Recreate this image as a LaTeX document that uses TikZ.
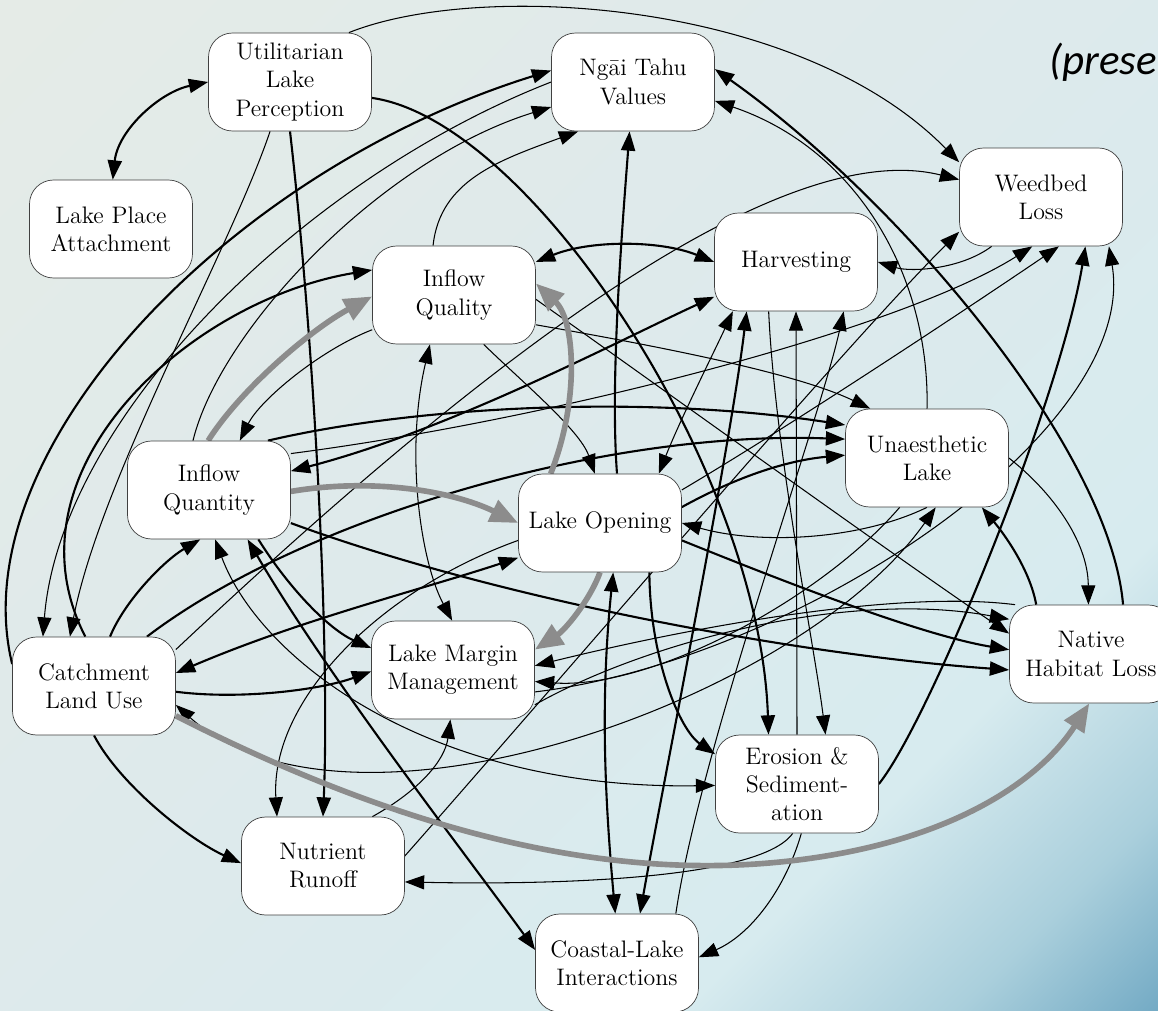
\documentclass[tikz,border=0pt]{standalone}
\usepackage{fontspec}
\newfontfamily\calibfont{Carlito}
\usetikzlibrary{arrows.meta}

\definecolor{bgA}{RGB}{229,235,231}
\definecolor{bgB}{RGB}{221,234,236}
\definecolor{bgC}{RGB}{215,235,239}
\definecolor{bgE}{RGB}{170,207,220}
\definecolor{bgD}{RGB}{112,168,195}
\pgfdeclarehorizontalshading{lakebg}{100bp}{color(0bp)=(bgA); color(15bp)=(bgA); color(50bp)=(bgB); color(70bp)=(bgC); color(79bp)=(bgE); color(86bp)=(bgD); color(100bp)=(bgD)}

\pgfdeclarelayer{bg}
\pgfdeclarelayer{edges}
\pgfsetlayers{bg,edges,main}

\begin{document}
\begin{tikzpicture}[x=0.02cm, y=-0.02cm,
        block/.style={rectangle, draw=black!75, fill=white, rounded corners=0.48cm, minimum width=3.26cm, minimum height=1.96cm, align=center, inner sep=0pt, font=\fontsize{13.6}{16}\selectfont},
        line/.style={draw, ->, >={Triangle[length=11pt,width=8pt]}, line width=0.6pt},
        heavy/.style={line, line width=1.2pt},
        trend/.style={draw=black!45, ->, >={Triangle[length=16pt,width=13pt]}, line width=3.2pt}]

    \begin{pgfonlayer}{bg}
        \shade [shading=lakebg, shading angle=-45] (0,0) rectangle (1158,1010);
    \end{pgfonlayer}
    \useasboundingbox (0,0) rectangle (1158,1010);

    \node [block] (util) at (290,82) {Utilitarian\\Lake\\Perception};
    \node [block] (place) at (111,229) {Lake Place\\Attachment};
    \node [block] (ngai) at (633,82) {Ngāi Tahu\\Values};
    \node [block] (weed) at (1041,197) {Weedbed\\Loss};
    \node [block] (harv) at (796,262) {Harvesting};
    \node [block] (qual) at (454,295) {Inflow\\Quality};
    \node [block] (unaes) at (927,458) {Unaesthetic\\Lake};
    \node [block] (quant) at (209,490) {Inflow\\Quantity};
    \node [block] (open) at (600,523) {Lake Opening};
    \node [block] (catch) at (94,686) {Catchment\\Land Use};
    \node [block] (margin) at (453,670) {Lake Margin\\Management};
    \node [block] (native) at (1091,654) {Native\\Habitat Loss};
    \node [block] (erosion) at (797,784) {Erosion \&\\Sediment-\\ation};
    \node [block] (runoff) at (323,866) {Nutrient\\Runoff};
    \node [block] (coast) at (617,963) {Coastal-Lake\\Interactions};

    \node [anchor=base west, inner sep=0pt, font=\calibfont\itshape\fontsize{24.5}{28}\selectfont] (title) at (1049,75) {(prese};

    \begin{pgfonlayer}{edges}
    % strong links
    \path [heavy, <->] (place.88) .. controls (118,130) and (160,92) .. (util.180);
    \path [heavy] (util.-11) .. controls (530,120) and (760,470) .. (erosion.120);
    \path [heavy] (util.-90) .. controls (315,350) and (330,650) .. (runoff.90);
    \path [heavy] (catch.165) .. controls (-40,450) and (230,170) .. (ngai.172);
    \path [heavy] (catch.100) .. controls (0,470) and (190,300) .. (qual.163);
    \path [heavy] (catch.72) .. controls (125,600) and (165,560) .. (quant.260);
    \path [heavy] (quant.-45) .. controls (290,590) and (330,630) .. (margin.165);
    \path [heavy, <->] (quant.-52) .. controls (330,680) and (470,860) .. (coast.171);
    \path [heavy] (catch.43) .. controls (300,520) and (600,430) .. (unaes.167);
    \path [heavy] (quant.40) .. controls (420,405) and (650,395) .. (unaes.158);
    \path [heavy] (open.11) .. controls (740,475) and (790,460) .. (unaes.178);
    \path [heavy] (open.71) .. controls (610,380) and (622,230) .. (ngai.266);
    \path [heavy] (native.57) .. controls (1110,450) and (900,200) .. (ngai.9.5);
    \path [heavy] (erosion.0) .. controls (930,720) and (1060,400) .. (weed.-48);
    \path [heavy, <->] (qual.22) .. controls (590,240) and (660,240) .. (harv.180);
    \path [heavy, <->] (quant.13.5) .. controls (450,430) and (620,340) .. (harv.203);
    \path [heavy, <->] (catch.9) .. controls (300,620) and (420,590) .. (open.203);
    \path [heavy] (catch.-4) .. controls (240,700) and (320,690) .. (margin.181);
    \path [heavy] (catch.-90) .. controls (120,785) and (190,840) .. (runoff.178);
    \path [heavy] (open.-45.6) .. controls (650,660) and (680,730) .. (erosion.160);
    \path [heavy] (open.-12) .. controls (780,580) and (920,635) .. (native.177);
    \path [heavy] (quant.-22) .. controls (500,600) and (800,655) .. (native.191);
    \path [heavy] (native.138) .. controls (1030,570) and (1005,535) .. (unaes.-42.5);
    \path [heavy, <->] (harv.225) .. controls (730,450) and (660,800) .. (coast.65);
    \path [heavy, <->] (open.-75) .. controls (600,700) and (605,800) .. (coast.92);

    % weaker links
    \path [line] (util.40) .. controls (480,-20) and (800,0) .. (weed.157);
    \path [line] (util.248) .. controls (230,250) and (100,480) .. (catch.116);
    \path [line] (ngai.180) .. controls (300,180) and (60,420) .. (catch.136);
    \path [line] (quant.108) .. controls (220,330) and (380,160) .. (ngai.197);
    \path [line] (qual.113) .. controls (440,180) and (500,160) .. (ngai.222.5);
    \path [line] (unaes.90) .. controls (930,280) and (860,150) .. (ngai.-13.4);
    \path [line] (catch.24) .. controls (420,420) and (760,130) .. (weed.168.5);
    \path [line] (quant.24) .. controls (550,420) and (900,330) .. (weed.260);
    \path [line] (open.22) .. controls (800,420) and (980,300) .. (weed.-70);
    \path [line] (runoff.7.7) .. controls (560,680) and (850,340) .. (weed.203);
    \path [line] (margin.-15) .. controls (800,660) and (1140,430) .. (weed.-36);
    \path [line] (native.147) .. controls (900,590) and (700,625) .. (margin.3.4);
    \path [line] (unaes.241) .. controls (820,600) and (650,690) .. (margin.-8.4);
    \path [line] (weed.225.6) .. controls (960,270) and (910,272) .. (harv.0);
    \path [line] (unaes.0) .. controls (1050,490) and (1088,540) .. (native.93.6);
    \path [line] (unaes.270) .. controls (860,540) and (760,545) .. (open.0);
    \path [line] (qual.-20) .. controls (680,350) and (800,375) .. (unaes.139);
    \path [line, <->] (qual.244) .. controls (405,450) and (420,560) .. (margin.91);
    \path [line] (qual.-59) .. controls (520,380) and (580,430) .. (open.96);
    \path [line, <->] (open.40.7) .. controls (680,420) and (715,350) .. (harv.218);
    \path [line] (harv.241) .. controls (775,450) and (815,650) .. (erosion.60.6);
    \path [line] (erosion.90) -- (harv.270);
    \path [line] (coast.40) .. controls (700,750) and (820,420) .. (harv.-46);
    \path [line] (erosion.265) .. controls (760,880) and (550,885) .. (runoff.-11.6);
    \path [line] (erosion.275) .. controls (785,890) and (750,935) .. (coast.4);
    \path [line, <->] (quant.277) .. controls (260,660) and (430,790) .. (erosion.181);
    \path [line, <->] (catch.-13.6) .. controls (350,860) and (800,700) .. (unaes.-80);
    \path [line] (open.192) .. controls (380,590) and (270,700) .. (runoff.133);
    \path [line] (runoff.45) .. controls (420,790) and (445,760) .. (margin.267);
    \path [line] (qual.-3.5) .. controls (650,380) and (900,560) .. (native.166);
    \path [line] (margin.-23) .. controls (650,640) and (850,590) .. (native.157);
    \path [line] (qual.203) .. controls (320,350) and (260,400) .. (quant.58);

    % main pathway
    \path [trend] (quant.91) .. controls (240,390) and (310,330) .. (qual.181);
    \path [trend] (quant.-1) .. controls (370,478) and (450,490) .. (open.180);
    \path [trend] (open.135) .. controls (580,400) and (575,320) .. (qual.8);
    \path [trend] (open.270) .. controls (590,600) and (565,630) .. (margin.14.7);
    \path [trend] (catch.-20) .. controls (400,830) and (600,880) .. (780,862)
        .. controls (950,845) and (1040,780) .. (native.268);
    \end{pgfonlayer}
\end{tikzpicture}
\end{document}
